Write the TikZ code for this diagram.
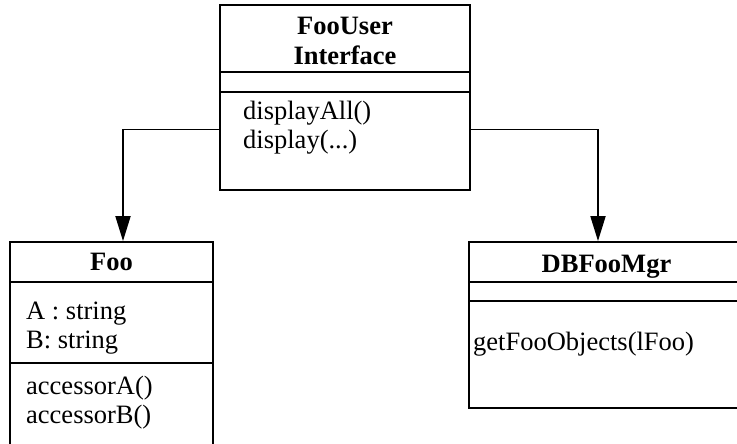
\documentclass[tikz,border=0pt]{standalone}
\usepackage{fontspec}
\setmainfont{Liberation Serif}
\usetikzlibrary{arrows.meta}
\begin{document}
\begin{tikzpicture}[x=1pt,y=-1pt,
  box/.style={draw,line width=1.8pt,rectangle,inner sep=0pt},
  txt/.style={anchor=base,inner sep=0pt,font=\fontsize{26.5}{30}\selectfont},
  ttl/.style={txt,font=\fontsize{26.5}{30}\selectfont\bfseries},
  lft/.style={txt,anchor=base west},
  div/.style={line width=1.8pt},
  arr/.style={line width=1.8pt,-{Triangle[length=25pt,width=15pt]}}]
\useasboundingbox (0,0) rectangle (737,444);
\clip (0,0) rectangle (737,444);
% boxes
\node[box,minimum width=250pt,minimum height=185pt] (ui) at (345,97.5) {};
\node[box,minimum width=203pt,minimum height=214pt] (foo) at (111.5,349) {};
\node[box,minimum width=275pt,minimum height=166pt] (db) at (606.5,325) {};
% dividers
\draw[div] (ui.west |- 0,72) -- (ui.east |- 0,72);
\draw[div] (ui.west |- 0,92) -- (ui.east |- 0,92);
\draw[div] (foo.west |- 0,282) -- (foo.east |- 0,282);
\draw[div] (foo.west |- 0,363) -- (foo.east |- 0,363);
\draw[div] (db.west |- 0,282) -- (db.east |- 0,282);
\draw[div] (db.west |- 0,301) -- (db.east |- 0,301);
% texts
\node[ttl] (uit1) at (345,35) {FooUser};
\node[ttl] (uit2) at (345,65) {Interface};
\node[lft] (uim1) at (243,120) {displayAll()};
\node[lft] (uim2) at (243,149) {display(...)};
\node[ttl] (foot) at (111.5,270) {Foo};
\node[lft] (fooa1) at (26,319) {A : string};
\node[lft] (fooa2) at (26,348) {B: string};
\node[lft] (foom1) at (26,394) {accessorA()};
\node[lft] (foom2) at (26,423) {accessorB()};
\node[ttl] (dbt) at (606.5,272) {DBFooMgr};
\node[lft] (dbm1) at (473,350) {getFooObjects(lFoo)};
% connectors
\draw[arr] ([yshift=-32pt]ui.west) -| ([xshift=11.5pt]foo.north);
\draw[arr] ([yshift=-32pt]ui.east) -| ([xshift=-8.5pt]db.north);
\end{tikzpicture}
\end{document}
